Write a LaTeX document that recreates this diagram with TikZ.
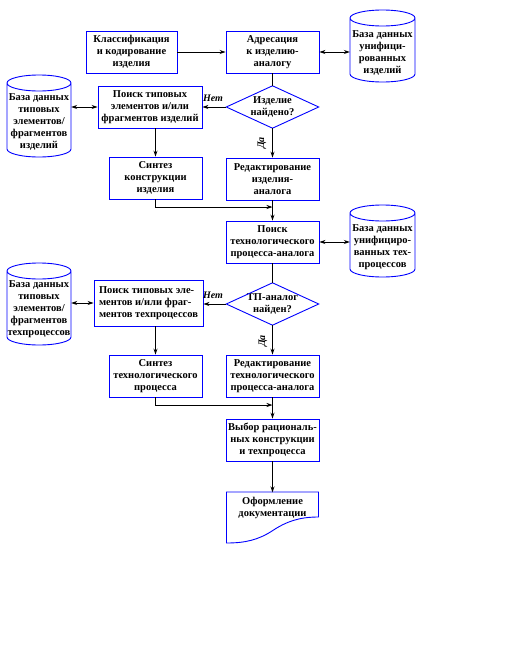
\documentclass[tikz,border=0pt]{standalone}
\usepackage{fontspec}
\setmainfont{Liberation Serif}
\usetikzlibrary{arrows.meta}
\newcommand\dbcyl[5]{%
  \draw[cylline] (#1,#4-8) arc[start angle=180,end angle=360,x radius=#5,y radius=8pt]
    -- (#2,#3+8) arc[start angle=0,end angle=360,x radius=#5,y radius=8pt]
    (#1,#3+8) -- (#1,#4-8);}
\begin{document}
\begin{tikzpicture}[x=1pt,y=-1pt,
 txt/.style={font=\fontsize{10.5}{12}\selectfont\bfseries, align=center, inner sep=0pt},
 blk/.style={txt, draw=blue, line width=0.9pt, minimum width=93pt, minimum height=42pt},
 cylline/.style={draw=blue, line width=0.9pt},
 conn/.style={line width=0.9pt},
 arr/.style={conn, -{Stealth[length=6pt,width=4pt]}},
 biarr/.style={conn, {Stealth[length=6pt,width=4pt]}-{Stealth[length=6pt,width=4pt]}},
 lbl/.style={font=\fontsize{10}{12}\selectfont\bfseries\itshape, inner sep=0pt}]
\useasboundingbox (0,0) rectangle (507,656);

% row 1
\node[blk, minimum width=91pt] (klass) at (131.5,52) {Классификация\\и кодирование\\изделия};
\node[blk] (adr) at (272.5,52) {Адресация\\к изделию-\\аналогу};
\node[txt, minimum width=65pt] (db1) at (382.5,53) {База данных\\унифици-\\рованных\\изделий};
\dbcyl{350}{415}{10}{82}{32.5pt}

% row 2
\node[txt, minimum width=64pt] (cyl1) at (39,122) {База данных\\типовых\\элементов/\\фрагментов\\изделий};
\dbcyl{7}{71}{75}{157}{32pt}
\node[blk, minimum width=104pt] (poisk1) at (150,107) {Поиск типовых\\элементов и/или\\фрагментов изделий};
\node[txt, minimum width=92pt, minimum height=42pt] (dia1) at (272.5,107) {Изделие\\найдено?};
\draw[cylline] (dia1.north) -- (dia1.east) -- (dia1.south) -- (dia1.west) -- cycle;

% row 3
\node[blk] (synt1) at (155.5,178) {Синтез\\конструкции\\изделия};
\node[blk] (red1) at (272.5,179) {Редактирование\\изделия-\\аналога};
\coordinate (j1) at (272.5,207);

% row 4
\node[blk] (poisk2) at (272.5,242) {Поиск\\технологического\\процесса-аналога};
\node[txt, minimum width=65pt] (db2) at (382.5,247.5) {База данных\\унифициро-\\ванных тех-\\процессов};
\dbcyl{350}{415}{205}{277}{32.5pt}

% row 5
\node[txt, minimum width=64pt] (cyl2) at (39,309) {База данных\\типовых\\элементов/\\фрагментов\\техпроцессов};
\dbcyl{7}{71}{263}{345}{32pt}
\node[blk, minimum width=109pt, minimum height=46pt, align=left] (poisk3) at (148.5,303) {Поиск типовых эле-\\ментов и/или фраг-\\ментов техпроцессов};
\node[txt, minimum width=92pt, minimum height=42pt] (dia2) at (272.5,304) {ТП-аналог\\найден?};
\draw[cylline] (dia2.north) -- (dia2.east) -- (dia2.south) -- (dia2.west) -- cycle;

% row 6
\node[blk] (synt2) at (155.5,376) {Синтез\\технологического\\процесса};
\node[blk] (red2) at (272.5,376) {Редактирование\\технологического\\процесса-аналога};
\coordinate (j2) at (272.5,405);

% row 7
\node[blk] (vybor) at (272.5,440) {Выбор рациональ-\\ных конструкции\\и техпроцесса};
\node[txt, minimum width=93pt, minimum height=30pt] (doc) at (272.5,507.5) {Оформление\\документации};
\draw[cylline] (226.5,543) -- (226.5,492) -- (318.5,492) -- (318.5,517)
  .. controls (300,517) and (287,521) .. (272,531)
  .. controls (258,540) and (245,543) .. (226.5,543) -- cycle;

% connectors
\draw[arr] (klass) -- (adr);
\draw[biarr] (adr.east) -- (adr.east -| db1.west);
\draw[conn] (adr) -- (dia1.north);
\draw[arr] (dia1.west) -- (poisk1.east);
\node[lbl] (net1) at (213,98) {Нет};
\draw[biarr] (poisk1.west) -- (poisk1.west -| cyl1.east);
\draw[arr] (poisk1.south -| synt1.north) -- (synt1.north);
\draw[arr] (dia1.south) -- (red1.north);
\node[lbl, rotate=90] (da1) at (262,143) {Да};
\draw[arr] (synt1.south) |- (j1);
\draw[arr] (red1) -- (poisk2);
\draw[biarr] (poisk2.east) -- (poisk2.east -| db2.west);
\draw[conn] (poisk2) -- (dia2.north);
\draw[arr] (dia2.west) -- (dia2.west -| poisk3.east);
\node[lbl] (net2) at (213,295) {Нет};
\draw[biarr] (poisk3.west) -- (poisk3.west -| cyl2.east);
\draw[arr] (poisk3.south -| synt2.north) -- (synt2.north);
\draw[arr] (dia2.south) -- (red2.north);
\node[lbl, rotate=90] (da2) at (263,341) {Да};
\draw[arr] (synt2.south) |- (j2);
\draw[arr] (red2) -- (vybor);
\draw[arr] (vybor) -- (doc.north);
\end{tikzpicture}
\end{document}
